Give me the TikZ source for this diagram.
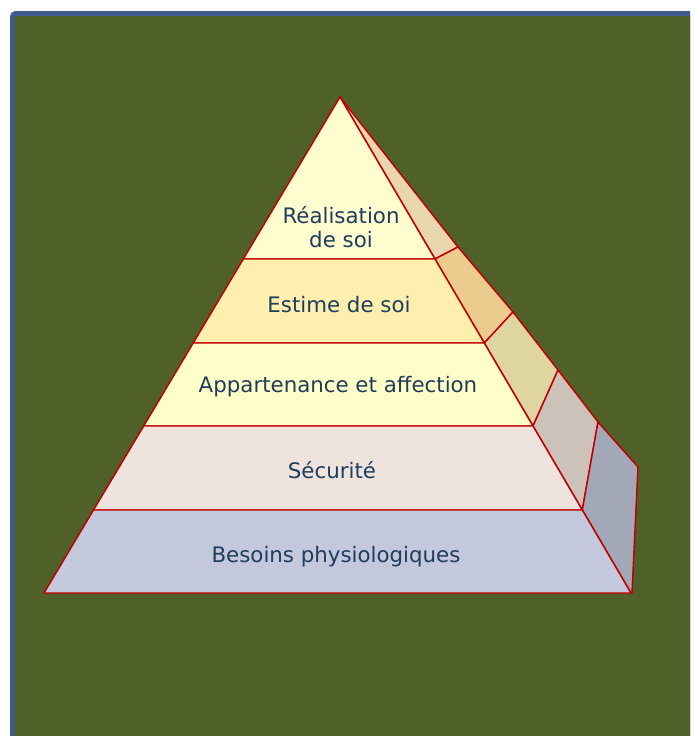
\documentclass[tikz,border=0pt]{standalone}
\usepackage{fontspec}
\setmainfont{DejaVu Sans}
\definecolor{frameblue}{HTML}{3D5E8C}
\definecolor{bggreen}{HTML}{4F6128}
\definecolor{edgered}{HTML}{C00000}
\definecolor{txt}{HTML}{1F3D5C}
\definecolor{fA}{HTML}{FFFCD0}
\definecolor{fB}{HTML}{FEEFAE}
\definecolor{fC}{HTML}{FFFDC8}
\definecolor{fD}{HTML}{EEE4DD}
\definecolor{fE}{HTML}{C3C8DD}
\definecolor{sA}{HTML}{EAD6AE}
\definecolor{sB}{HTML}{EBCB8E}
\definecolor{sC}{HTML}{DFD5A1}
\definecolor{sD}{HTML}{CCC2BA}
\definecolor{sE}{HTML}{A3A8B8}
\tikzset{
  band/.style={draw=edgered, line width=1.1pt, line join=round},
  label/.style={text=txt, font=\fontsize{16}{18}\selectfont, align=center, inner sep=0pt}
}
\begin{document}
\begin{tikzpicture}[x=0.75pt, y=-0.75pt]
  \useasboundingbox (0,0) rectangle (690,736);
  \begin{scope}
    \clip (0,0) rectangle (690,736);
    \fill[frameblue, rounded corners=4pt] (10,11) rectangle (710,760);
    \fill[bggreen] (15,16) rectangle (710,760);
  \end{scope}
  % front face corners, level by level
  \coordinate (apex) at (340,97);
  \coordinate (l1) at (243.3,259); \coordinate (r1) at (435,259);
  \coordinate (l2) at (193.2,343); \coordinate (r2) at (484.3,343);
  \coordinate (l3) at (143.7,426); \coordinate (r3) at (533,426);
  \coordinate (l4) at (93.5,510);  \coordinate (r4) at (582.3,510);
  \coordinate (l5) at (44,593);    \coordinate (r5) at (631,593);
  % outer corners of the side face
  \coordinate (o1) at (458,247);
  \coordinate (o2) at (513,312);
  \coordinate (o3) at (558,370);
  \coordinate (o4) at (598,422);
  \coordinate (o5) at (638,467);
  \coordinate (b5) at (632,593);
  % side face
  \draw[band, fill=sA] (apex) -- (o1) -- (r1) -- cycle;
  \draw[band, fill=sB] (r1) -- (o1) -- (o2) -- (r2) -- cycle;
  \draw[band, fill=sC] (r2) -- (o2) -- (o3) -- (r3) -- cycle;
  \draw[band, fill=sD] (r3) -- (o3) -- (o4) -- (r4) -- cycle;
  \draw[band, fill=sE] (r4) -- (o4) -- (o5) -- (b5) -- (r5) -- cycle;
  % front face
  \draw[band, fill=fA] (apex) -- (r1) -- (l1) -- cycle;
  \draw[band, fill=fB] (l1) -- (r1) -- (r2) -- (l2) -- cycle;
  \draw[band, fill=fC] (l2) -- (r2) -- (r3) -- (l3) -- cycle;
  \draw[band, fill=fD] (l3) -- (r3) -- (r4) -- (l4) -- cycle;
  \draw[band, fill=fE] (l4) -- (r4) -- (r5) -- (l5) -- cycle;
  % labels
  \node[label] (t1) at (341,227) {Réalisation\\de soi};
  \node[label] (t2) at (339,305) {Estime de soi};
  \node[label] (t3) at (338,387) {Appartenance et affection};
  \node[label] (t4) at (332,470) {Sécurité};
  \node[label] (t5) at (336,557) {Besoins physiologiques};
\end{tikzpicture}
\end{document}
